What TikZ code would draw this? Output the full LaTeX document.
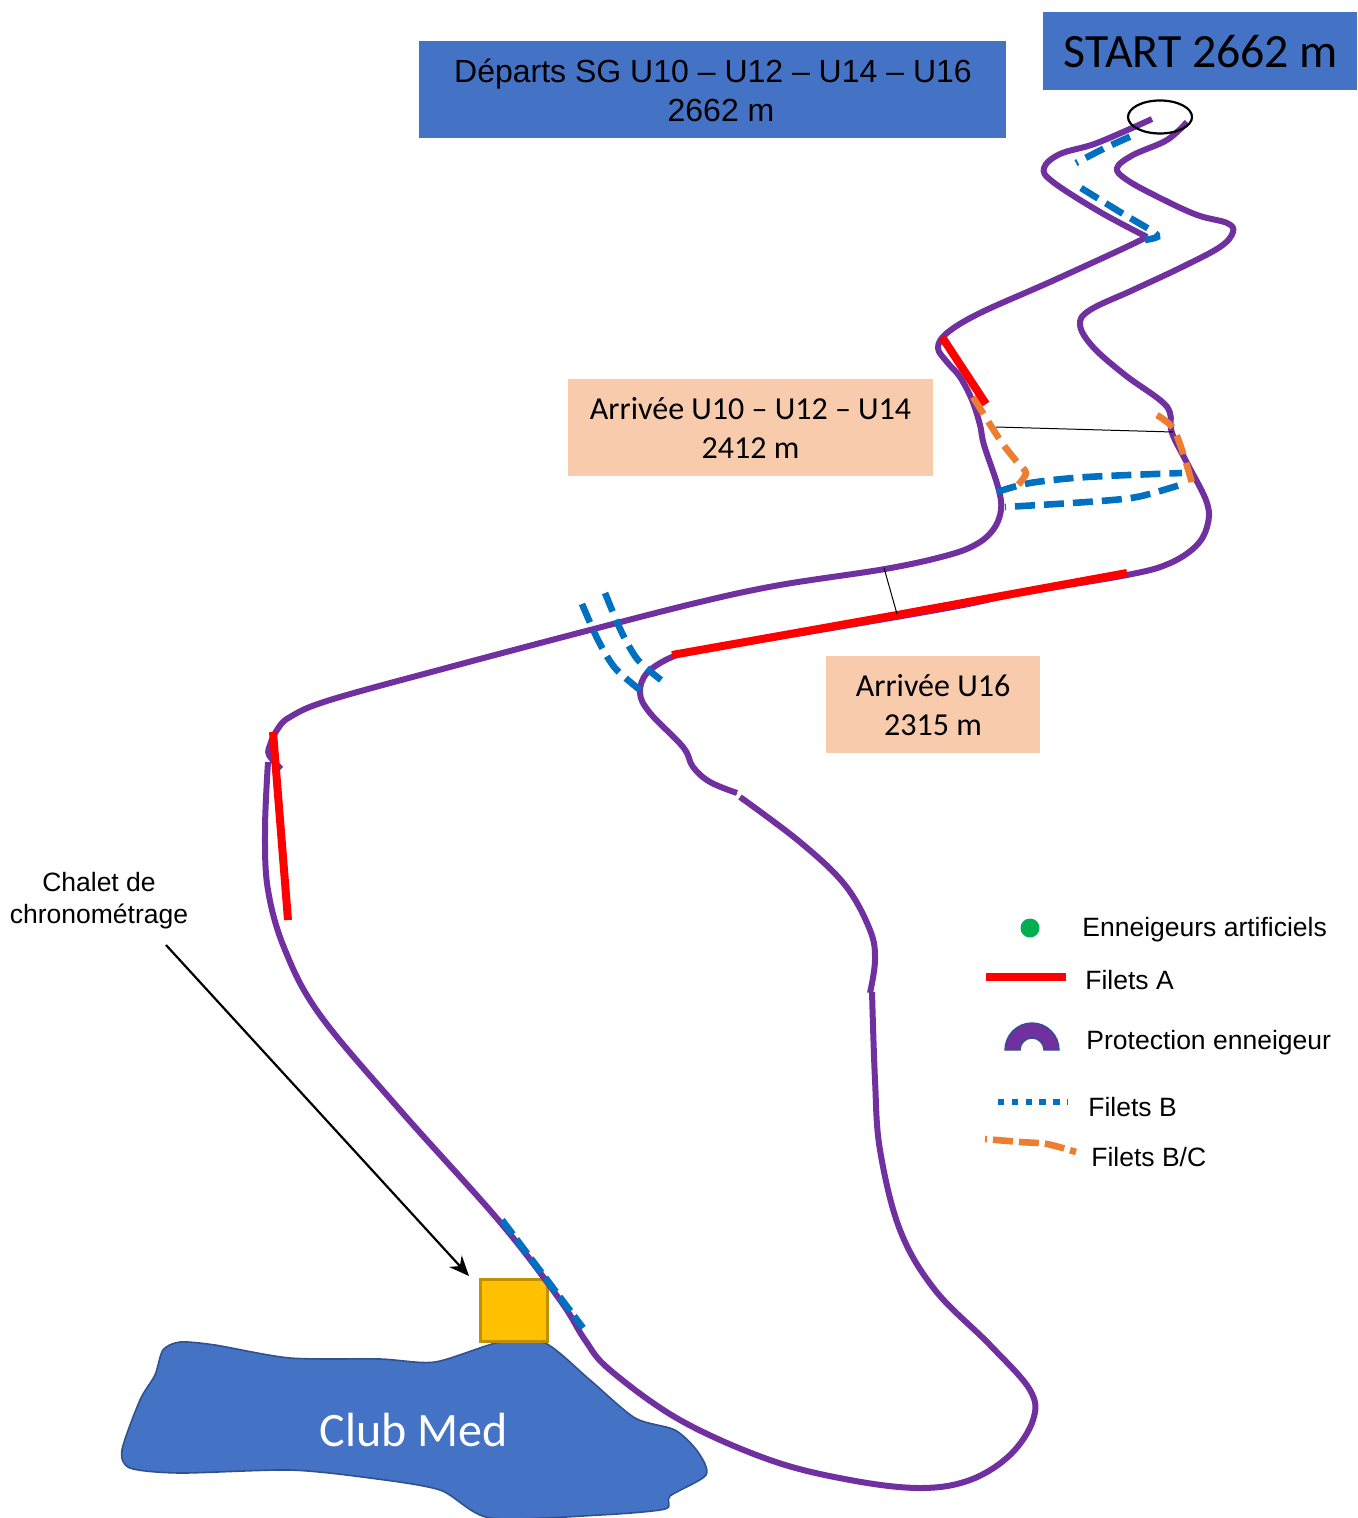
\documentclass[tikz,border=0pt]{standalone}
\usepackage{fontspec}
\setmainfont{Liberation Sans}
\newfontfamily\calfont{Carlito}
\usetikzlibrary{arrows.meta}
\definecolor{boxblue}{HTML}{4472C4}
\definecolor{boxedge}{HTML}{2F528F}
\definecolor{peach}{HTML}{F8CBAD}
\definecolor{trackpurple}{HTML}{7030A0}
\definecolor{netblue}{HTML}{0070C0}
\definecolor{netorange}{HTML}{ED7D31}
\definecolor{chalet}{HTML}{FFC000}
\definecolor{chaletedge}{HTML}{BF9000}
\definecolor{dotgreen}{HTML}{00B050}
\tikzset{
  x=0.5pt,y=-0.5pt,
  track/.style={draw=trackpurple,line width=3pt,line join=round},
  neta/.style={draw=red,line width=4pt},
  netb/.style={draw=netblue,line width=3.3pt,dash pattern=on 10pt off 4.5pt},
  netc/.style={draw=netorange,line width=3.3pt,dash pattern=on 10pt off 4.5pt},
  thinline/.style={draw=black,line width=0.5pt},
  boxtext/.style={inner sep=0pt,align=center,text=black},
  peachtext/.style={boxtext,font=\calfont\fontsize{16pt}{19.1pt}\selectfont},
  legendtext/.style={anchor=base west,inner sep=0pt,font=\fontsize{13.25pt}{16pt}\selectfont},
}
\begin{document}
\begin{tikzpicture}
\useasboundingbox (0,0) rectangle (1357,1518);

% Club Med blob
\draw[fill=boxblue,draw=boxedge,line width=0.8pt] plot[smooth cycle,tension=0.45] coordinates {
 (163,1350) (180,1342) (215,1345) (290,1358) (380,1359) (435,1362) (500,1342) (545,1343) (590,1380) (635,1418)
 (675,1430) (698,1452) (706,1475) (670,1496) (665,1509) (600,1515) (490,1518) (440,1490) (370,1478) (290,1470)
 (180,1473) (130,1468) (122,1450) (140,1400) (155,1375)};
\node[text=white,inner sep=0pt,anchor=base,font=\calfont\fontsize{24pt}{28pt}\selectfont] (clubmed) at (414,1446) {Club Med};

% Chalet
\node[fill=chalet,draw=chaletedge,line width=1.5pt,inner sep=0pt,
      minimum width=33.5pt,minimum height=31pt] (chaletbox) at (514,1310.5) {};

% Track
\draw[track] plot[smooth,tension=0.6] coordinates {(1152,119) (1097,143) (1060,154) (1044,168) (1053,182) (1100,212) (1147,237)};
\draw[track] plot[smooth,tension=0.6] coordinates {(1147,237) (1120,250) (1050,282) (980,313) (947,333) (938,348) (947,362) (960,377) (972,400) (980,425) (984,445) (998,487) (1001,510) (993,530) (975,545) (945,556) (885,569) (780,585) (700,602) (590,630) (450,667) (330,700) (290,717) (277,730) (270,745) (269,755) (281,769)};
\draw[track] plot[smooth,tension=0.6] coordinates {(1187,122) (1167,140) (1133,155) (1117,168) (1127,180) (1160,198) (1197,215) (1227,223) (1233,232) (1220,247) (1180,268) (1133,290) (1090,310) (1080,325) (1093,347) (1125,375) (1160,400) (1170,413) (1172,433) (1187,463) (1207,503) (1207,527) (1195,547) (1168,564) (1127,575) (1020,593) (953,607) (820,630) (700,650) (672,657) (647,673) (640,693) (650,713) (683,747) (693,767) (710,782) (737,793)};
\draw[track] plot[smooth,tension=0.6] coordinates {(740,797) (800,842) (845,885) (870,930) (875,960) (870,993)};
\draw[track] plot[smooth,tension=0.6] coordinates {(872,992) (875,1080) (880,1150) (900,1230) (935,1290) (990,1345) (1030,1390) (1033,1420) (1010,1455) (970,1480) (920,1488) (850,1480) (770,1460) (680,1420) (610,1370) (585,1340) (560,1300) (500,1222) (400,1110) (320,1015) (285,950) (268,890) (265,830) (268,762)};

% Filets B
\draw[netb,dash phase=9pt] plot[smooth] coordinates {(1076,163) (1105,148) (1134,135)};
\draw[netb] plot[smooth,tension=0.5] coordinates {(1081,188) (1120,212) (1152,231) (1157,237) (1145,240)};
\draw[netb] plot[smooth] coordinates {(582,604) (598,640) (615,668) (640,690)};
\draw[netb] plot[smooth] coordinates {(605,593) (622,633) (638,660) (661,680)};
\draw[netb] plot[smooth] coordinates {(997,492) (1030,483) (1087,477) (1182,473)};
\draw[netb,dash phase=9.5pt] plot[smooth] coordinates {(1005,507) (1087,502) (1137,497) (1183,484)};
\draw[netb,line width=3.4pt,dash pattern=on 9pt off 3pt] (502,1220) -- (583,1328);

% Filets B/C
\draw[netc] plot[smooth,tension=0.5] coordinates {(973,397) (1000,440) (1017,462) (1026,473) (1018,485)};
\draw[netc] plot[smooth,tension=0.5] coordinates {(1157,415) (1173,428) (1183,453) (1192,483)};

% Filets A
\draw[neta] (942,337) -- (986,404);
\draw[neta] (672,655) -- (897,615) -- (1127,573);
\draw[neta] (273,732) -- (288,920);

% Thin leader lines
\coordinate (lA) at (996,427); \coordinate (lB) at (1173,432);
\coordinate (lC) at (884,568); \coordinate (lD) at (897,614);
\draw[thinline] (lA) -- (lB);
\draw[thinline] (lC) -- (lD);

% Start ellipse
\draw[black,line width=1.1pt] (1160,117) ellipse [x radius=32,y radius=16.5];

% Boxes
\fill[boxblue] (419,41) rectangle (1006,138);
\node[boxtext,font=\fontsize{16pt}{19.5pt}\selectfont] (departs) at (713,90) {Départs SG U10 – U12 – U14 – U16\\\hspace*{8pt}2662 m};
\fill[boxblue] (1043,12) rectangle (1357,90);
\node[boxtext,font=\calfont\fontsize{23.9pt}{26pt}\selectfont] (start) at (1201,52) {START 2662 m};
\fill[peach] (568,379) rectangle (933,476);
\node[peachtext] (arr1) at (750.5,428) {Arrivée U10 – U12 – U14\\2412 m};
\fill[peach] (826,656) rectangle (1040,753);
\node[peachtext] (arr2) at (933,705) {Arrivée U16\\2315 m};

% Chalet label and arrow
\node[inner sep=0pt,align=center,font=\fontsize{13.25pt}{16pt}\selectfont] (chaletlabel) at (99,901) {Chalet de\\chronométrage};
\coordinate (arrowstart) at (166,945); \coordinate (arrowend) at (469,1276);
\draw[black,line width=1.1pt,-{Stealth[length=10pt,width=8.5pt]}] (arrowstart) -- (arrowend);

% Legend
\fill[dotgreen] (1030,928) circle [radius=9.5];
\node[legendtext] (l1) at (1082,936.5) {Enneigeurs artificiels};
\draw[draw=red,line width=4pt] (986,977) -- (1066,977);
\node[legendtext] (l2) at (1085,989.5) {Filets A};
\draw[fill=trackpurple,draw=boxedge,line width=0.7pt] (1005,1050) arc[start angle=180,end angle=360,radius=27] -- (1044,1050) arc[start angle=360,end angle=180,radius=12] -- cycle;
\node[legendtext] (l3) at (1086,1049.5) {Protection enneigeur};
\draw[draw=netblue,line width=3pt,dash pattern=on 3.2pt off 3.7pt] (998,1102) -- (1068,1102);
\node[legendtext] (l4) at (1088,1116.5) {Filets B};
\draw[netc,dash pattern=on 10pt off 3pt,dash phase=9pt] plot[smooth] coordinates {(985,1139) (1020,1142) (1047,1144) (1076,1152)};
\node[legendtext] (l5) at (1091,1166.5) {Filets B/C};
\end{tikzpicture}
\end{document}
